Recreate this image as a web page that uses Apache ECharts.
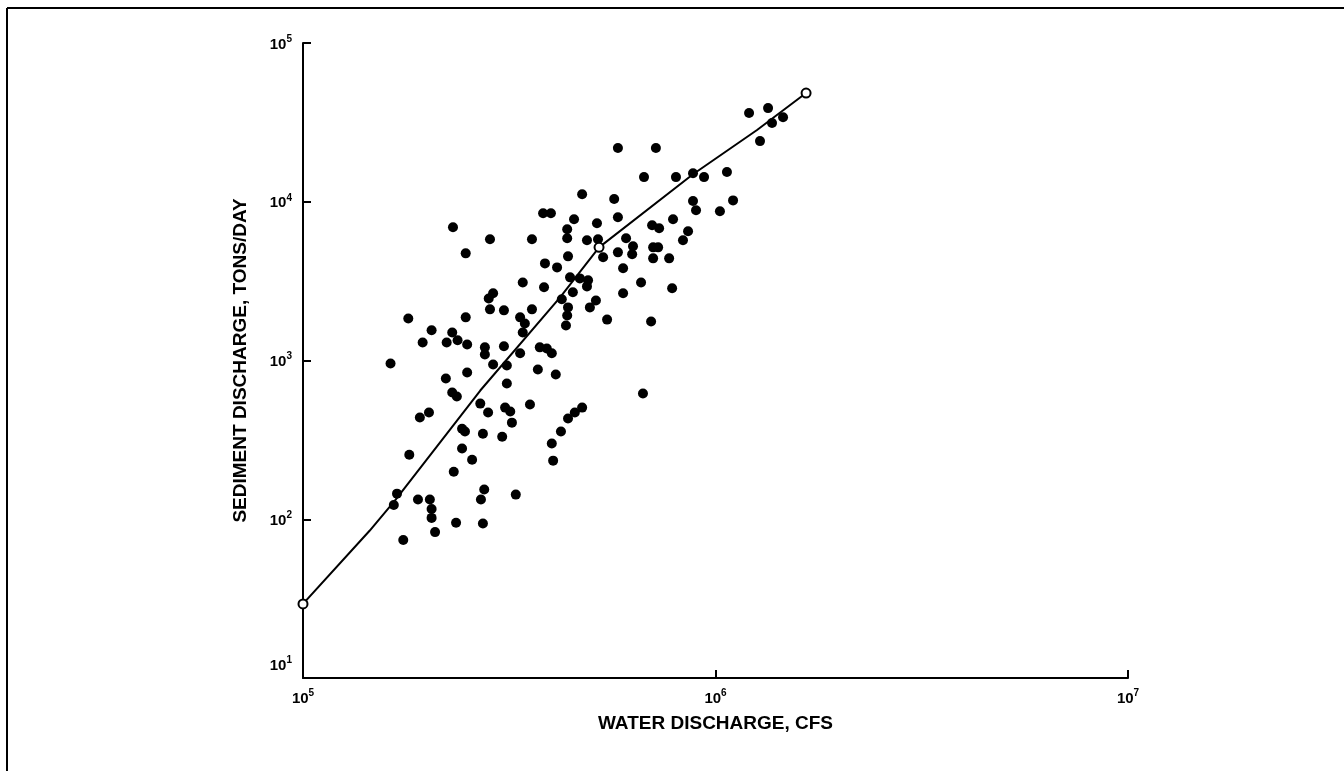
<!DOCTYPE html>
<html>
<head>
<meta charset="utf-8">
<script src="https://cdn.jsdelivr.net/npm/echarts@6/dist/echarts.min.js"></script>
<style>
  html, body { margin: 0; padding: 0; background: #fff; }
  #chart { width: 1344px; height: 771px; }
</style>
</head>
<body>
<div id="chart"></div>
<script>
// Observed sediment load against water discharge (log-log)
const waterDischarge = [
  180000, 248000, 205000, 195000, 230000, 223000, 237000, 250000, 163000, 250000,
  222000, 230000, 236000, 192000, 202000, 243000, 247000, 181000, 243000, 257000,
  232000, 169000, 166000, 190000, 203000, 205000, 205000, 235000, 209000, 175000,
  269000, 281000, 309000, 318000, 321000, 355000, 273000, 304000, 475000, 456000,
  439000, 422000, 401000, 404000, 275000, 270000, 328000, 273000, 312000, 371000,
  410000, 382000, 399000, 454000, 516000, 568000, 475000, 580000, 284000, 359000,
  437000, 437000, 488000, 519000, 534000, 580000, 439000, 386000, 413000, 341000,
  384000, 444000, 469000, 491000, 488000, 451000, 289000, 282000, 284000, 307000,
  359000, 424000, 439000, 437000, 434000, 513000, 496000, 546000, 336000, 345000,
  341000, 276000, 276000, 307000, 336000, 375000, 390000, 401000, 289000, 312000,
  231000, 248000, 597000, 597000, 580000, 717000, 1282000, 671000, 802000, 882000,
  938000, 1066000, 882000, 897000, 1025000, 1103000, 789000, 702000, 730000, 858000,
  834000, 607000, 631000, 628000, 706000, 726000, 706000, 772000, 660000, 785000,
  698000, 667000, 1206000, 1341000, 1371000, 1458000
];
const sedimentDischarge = [
  1840, 1870, 1550, 1300, 1500, 1300, 1340, 1260, 958, 840,
  770, 628, 593, 437, 470, 372, 357, 255, 279, 237,
  199, 145, 123, 133, 133, 116, 102, 95, 83, 74,
  535, 470, 505, 477, 406, 528, 346, 331, 505, 470,
  431, 357, 300, 234, 154, 133, 143, 94, 716, 878,
  816, 8460, 8460, 7750, 7320, 10400, 11150, 7980, 5800, 5800,
  6710, 5890, 5720, 5800, 4470, 4800, 4530, 4090, 3860, 3100,
  2890, 3340, 3290, 3200, 2930, 2690, 2650, 2460, 2100, 2070,
  2100, 2430, 2160, 1920, 1660, 2390, 2160, 1810, 1870, 1710,
  1500, 1210, 1090, 1230, 1110, 1210, 1190, 1110, 943, 930,
  6900, 4730, 3810, 2650, 21800, 21800, 24100, 14300, 14300, 15100,
  14300, 15400, 10100, 8840, 8710, 10200, 7750, 7110, 6800, 6520,
  5720, 5890, 5240, 4670, 5160, 5160, 4400, 4400, 3100, 2850,
  1760, 619, 36200, 38900, 31300, 34100
];

// Fitted rating curve, with open circles at its knots
const curveWater    = [100000, 145000, 167000, 269000, 420000, 522000, 882000, 1261000, 1658000];
const curveSediment = [29.3, 84.6, 131, 647, 2500, 5160, 14900, 28300, 48400];
const knotIndex     = [0, 5, 8];

const xTitle = 'WATER DISCHARGE, CFS';
const yTitle = 'SEDIMENT DISCHARGE, TONS/DAY';

const points = waterDischarge.map((q, i) => [q, sedimentDischarge[i]]);
const curve = curveWater.map((q, i) => [q, curveSediment[i]]);
const knots = knotIndex.map(i => curve[i]);

const FONT = '"Liberation Sans", Arial, Helvetica, sans-serif';

// Decade labels drawn as 10 with a raised exponent
function powerLabel(v) {
  const e = Math.round(Math.log10(v));
  return '{b|10}{s|' + e + '}';
}
// The lowest sediment label sits a little above the corner of the axes
function yPowerLabel(v) {
  const e = Math.round(Math.log10(v));
  return e === 1 ? powerLabel(v) + '\n{gap| }' : powerLabel(v);
}
const labelRich = {
  b: { fontFamily: FONT, fontWeight: 'bold', fontSize: 15, lineHeight: 18, color: '#000', verticalAlign: 'bottom' },
  s: { fontFamily: FONT, fontWeight: 'bold', fontSize: 10, lineHeight: 10, color: '#000', verticalAlign: 'top' },
  gap: { fontSize: 10, lineHeight: 28 }
};
const titleStyle = { fontFamily: FONT, fontWeight: 'bold', fontSize: 19, color: '#000' };

const chart = echarts.init(document.getElementById('chart'), null, { renderer: 'canvas' });
chart.setOption({
  animation: false,
  backgroundColor: '#fff',
  grid: { left: 303, right: 216, top: 43, bottom: 93, containLabel: false },
  xAxis: {
    type: 'log',
    logBase: 10,
    min: 1e5,
    max: 1e7,
    splitNumber: 2,
    name: xTitle,
    nameLocation: 'middle',
    nameGap: 36,
    nameTextStyle: titleStyle,
    axisLine: { show: true, lineStyle: { color: '#000', width: 2 } },
    axisTick: { show: true, inside: true, length: 8, lineStyle: { color: '#000', width: 2 } },
    minorTick: { show: false },
    splitLine: { show: false },
    axisLabel: { margin: 10, formatter: powerLabel, rich: labelRich }
  },
  yAxis: {
    type: 'log',
    logBase: 10,
    min: 10,
    max: 1e5,
    splitNumber: 4,
    name: yTitle,
    nameLocation: 'middle',
    nameGap: 53,
    nameTextStyle: titleStyle,
    axisLine: { show: true, lineStyle: { color: '#000', width: 2 } },
    axisTick: { show: true, inside: true, length: 8, lineStyle: { color: '#000', width: 2 } },
    splitLine: { show: false },
    axisLabel: { margin: 11, formatter: yPowerLabel, rich: labelRich }
  },
  series: [
    {
      type: 'scatter',
      data: points,
      symbol: 'circle',
      symbolSize: 10,
      itemStyle: { color: '#000', opacity: 1 },
      z: 2
    },
    {
      type: 'line',
      data: curve,
      symbol: 'none',
      smooth: false,
      lineStyle: { color: '#000', width: 2 },
      z: 3
    },
    {
      type: 'scatter',
      data: knots,
      symbol: 'circle',
      symbolSize: 9,
      itemStyle: { color: '#fff', borderColor: '#000', borderWidth: 2, opacity: 1 },
      z: 4
    }
  ],
  graphic: [
    { type: 'line', shape: { x1: 7, y1: 8, x2: 1344, y2: 8 }, style: { stroke: '#000', lineWidth: 2 } },
    { type: 'line', shape: { x1: 7, y1: 8, x2: 7, y2: 771 }, style: { stroke: '#000', lineWidth: 2 } }
  ]
});
</script>
</body>
</html>
